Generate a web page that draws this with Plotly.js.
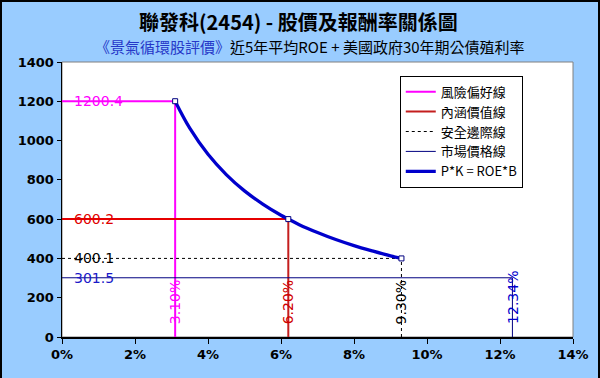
<!DOCTYPE html>
<html>
<head>
<meta charset="utf-8">
<script src="https://cdn.plot.ly/plotly-3.0.1.min.js"></script>
<style>
  html, body { margin: 0; padding: 0; background: #99CCFF; }
  #chart { width: 600px; height: 378px; }
</style>
</head>
<body>
<div id="chart"></div>
<script>
// ---- data ----
const titleText = "聯發科(2454) - 股價及報酬率關係圖";
const subtitleBlue = "《景氣循環股評價》";
const subtitleBlack = "近5年平均ROE + 美國政府30年期公債殖利率";

// P*K = ROE*B curve (K in %, P in price)
const curveK = [3.1, 3.5, 4, 4.5, 5, 5.5, 6, 6.2, 6.5, 7, 7.5, 8, 8.5, 9, 9.3];
const curveP = [1200.4, 1063, 930, 827, 744, 677, 620, 600.2, 572, 532, 496, 465, 438, 413, 400.1];

// markers on curve
const markK = [3.1, 6.2, 9.3];
const markP = [1200.4, 600.2, 400.1];

// reference lines: names, rate (%), price
const lineNames = ["風險偏好線", "內涵價值線", "安全邊際線", "市場價格線"];
const lineRates = [3.10, 6.20, 9.30, 12.34];
const linePrices = [1200.4, 600.2, 400.1, 301.5];
const rateLabels = ["3.10%", "6.20%", "9.30%", "12.34%"];
const priceLabels = ["1200.4", "600.2", "400.1", "301.5"];
const curveName = "P*K = ROE*B";

const xTicks = [0, 2, 4, 6, 8, 10, 12, 14];
const xTickLabels = ["0%", "2%", "4%", "6%", "8%", "10%", "12%", "14%"];
const yTicks = [0, 200, 400, 600, 800, 1000, 1200, 1400];

// ---- styling ----
const vColors = ["#FF00FF", "#C41E1E", "#000000", "#000080"];
const hColors = ["#FF00FF", "#E60000", "#000000", "#000080"];
const labelColors = ["#FF00FF", "#E00000", "#000000", "#1A1AC8"];
const vlabelColors = ["#FF00FF", "#D00000", "#000000", "#0000CC"];
const widths = [2, 2, 1, 1];
const dashes = ["solid", "solid", "3px,3px", "solid"];

const traces = [];
for (let i = 0; i < lineNames.length; i++) {
  traces.push({
    x: [lineRates[i], lineRates[i]], y: [0, linePrices[i]],
    mode: "lines", name: lineNames[i],
    line: {color: vColors[i], width: widths[i], dash: dashes[i]},
    hoverinfo: "skip", showlegend: true
  });
  traces.push({
    x: [0, lineRates[i]], y: [linePrices[i], linePrices[i]],
    mode: "lines", name: lineNames[i],
    line: {color: hColors[i], width: widths[i], dash: dashes[i]},
    hoverinfo: "skip", showlegend: false
  });
}
traces.push({
  x: curveK, y: curveP, mode: "lines", name: curveName,
  line: {color: "#0000CC", width: 3.3, shape: "spline"}, showlegend: true
});
traces.push({
  x: markK, y: markP, mode: "markers", showlegend: false,
  marker: {symbol: "square", size: 5, color: "#FFFFFF", line: {color: "#000080", width: 1}}
});

const annotations = [];
for (let i = 0; i < lineNames.length; i++) {
  annotations.push({
    x: 0.27, y: linePrices[i], xref: "x", yref: "y",
    text: priceLabels[i], showarrow: false, xanchor: "left", yanchor: "middle",
    font: {family: "DejaVu Sans", size: 14, color: labelColors[i]}
  });
  annotations.push({
    x: lineRates[i], y: 56, xref: "x", yref: "y",
    text: rateLabels[i], showarrow: false, textangle: -90,
    xanchor: "center", yanchor: "bottom",
    font: {family: "DejaVu Sans", size: 14, color: vlabelColors[i]}
  });
}
annotations.push({
  x: 0.462, y: 1.146, xref: "paper", yref: "paper",
  text: "<b>" + titleText + "</b>", showarrow: false,
  xanchor: "center", yanchor: "middle",
  font: {family: "Noto Sans CJK TC", size: 20, color: "#000000"}
});
annotations.push({
  x: 0.485, y: 1.055, xref: "paper", yref: "paper",
  text: '<span style="color:#2638C8">' + subtitleBlue + '</span>' + subtitleBlack,
  showarrow: false, xanchor: "center", yanchor: "middle",
  font: {family: "Noto Sans CJK TC", size: 15, color: "#000000"}
});

const layout = {
  width: 600, height: 378,
  margin: {l: 62, r: 27, t: 62, b: 41, pad: 0},
  paper_bgcolor: "#99CCFF", plot_bgcolor: "#FFFFFF",
  showlegend: true,
  legend: {
    x: 0.661, y: 0.95, xanchor: "left", yanchor: "top",
    bgcolor: "#FFFFFF", bordercolor: "#000000", borderwidth: 1,
    font: {family: "Noto Sans CJK TC", size: 13, color: "#000000"},
    traceorder: "normal", tracegroupgap: 0
  },
  xaxis: {
    range: [0, 14], tickvals: xTicks, ticktext: xTickLabels,
    showgrid: false, zeroline: false, showline: true, linecolor: "#000000", linewidth: 1.5,
    ticks: "outside", ticklen: 5, tickcolor: "#000000",
    tickfont: {family: "DejaVu Sans", size: 13, color: "#000000", weight: "bold"},
    fixedrange: true
  },
  yaxis: {
    range: [0, 1400], tickvals: yTicks,
    showgrid: false, zeroline: false, showline: true, linecolor: "#000000", linewidth: 1.5,
    ticks: "outside", ticklen: 4, tickcolor: "#000000",
    tickfont: {family: "DejaVu Sans", size: 13, color: "#000000", weight: "bold"},
    fixedrange: true
  },
  shapes: [
    {type: "rect", xref: "paper", yref: "paper", x0: 0, x1: 1, y0: 0, y1: 1,
     line: {color: "#808080", width: 1}, layer: "below"},
    {type: "rect", xref: "paper", yref: "paper",
     x0: (1 - 62) / 511, x1: (599 - 62) / 511, y0: (275 - 376) / 275, y1: (275 + 62 - 1) / 275,
     line: {color: "#000000", width: 2}, layer: "above"}
  ],
  annotations: annotations
};

Plotly.newPlot("chart", traces, layout, {displayModeBar: false, staticPlot: true});
</script>
</body>
</html>
